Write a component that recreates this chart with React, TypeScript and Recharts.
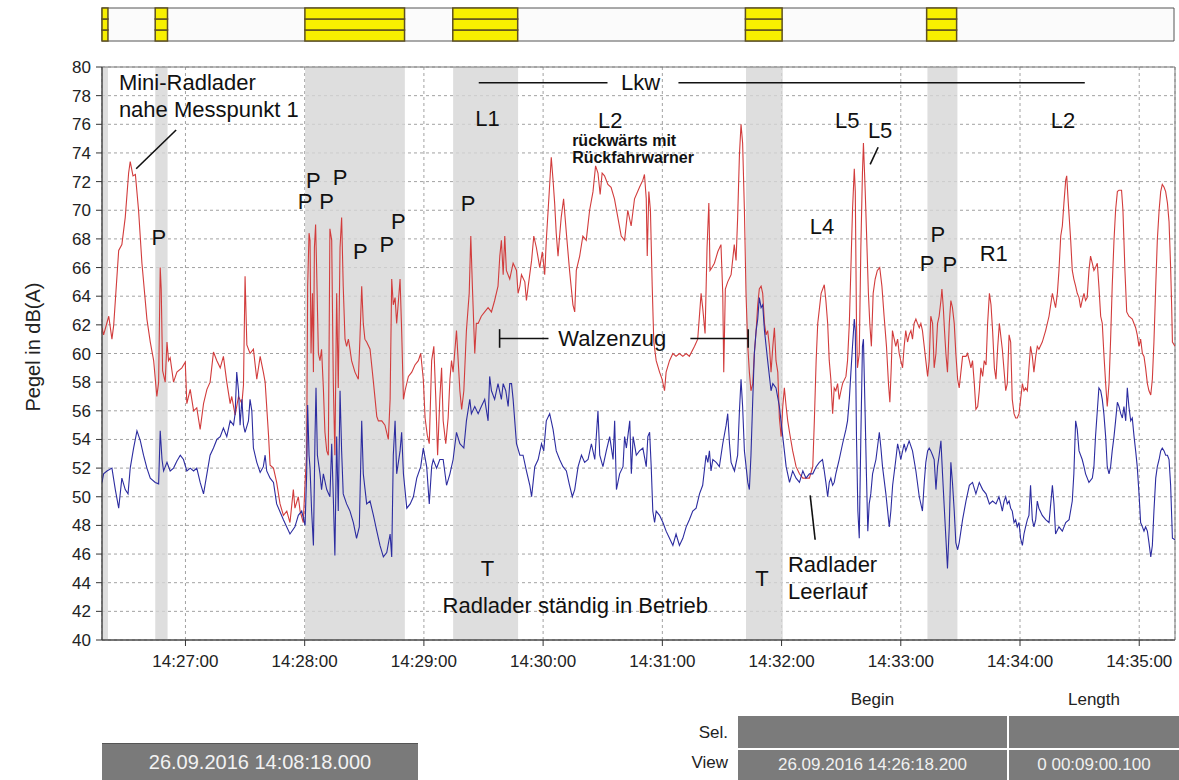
import React from 'react';
import {
  LineChart,
  Line,
  XAxis,
  YAxis,
  CartesianGrid,
  ReferenceArea,
  ReferenceLine,
  ReferenceDot,
} from 'recharts';

const FONT = '"Liberation Sans", Arial, Helvetica, sans-serif';

// x values are seconds after 14:26:18
const timeTicks = [42, 102, 162, 222, 282, 342, 402, 462, 522];
const timeLabels = ['14:27:00', '14:28:00', '14:29:00', '14:30:00', '14:31:00', '14:32:00', '14:33:00', '14:34:00', '14:35:00'];
const levelTicks = [40, 42, 44, 46, 48, 50, 52, 54, 56, 58, 60, 62, 64, 66, 68, 70, 72, 74, 76, 78, 80];

// marked intervals: grey bands in the plot, yellow blocks in the strip above
const markStart = [0, 26.8, 102.2, 176.7, 324.1, 415.4];
const markEnd = [3, 33.0, 152.4, 209.4, 342.6, 430.5];

// [seconds, dB(A)]
const redLevels: [number, number][] = [
  [0, 61.8], [0.8, 61.3], [3.4, 62.6], [5.0, 61.0], [5.9, 62.0], [8.4, 67.2], [10.0, 67.6], [11.7, 69.5], [13.4, 72.6], [14.2, 73.4],
  [15.6, 72.4], [16.8, 72.5], [18.4, 70.0], [20.1, 66.3], [22.6, 62.4], [24.3, 60.8], [26.0, 59.5], [27.6, 57.0], [28.5, 58.0], [29.3, 66.0],
  [29.8, 64.5], [30.5, 58.8], [31.8, 58.0], [32.7, 60.8], [33.5, 59.5], [34.3, 59.7], [36.0, 58.0], [37.7, 58.7], [40.2, 59.0], [41.9, 59.4],
  [42.7, 56.5], [44.4, 57.5], [46.1, 56.0], [47.7, 56.2], [49.4, 54.7], [51.1, 56.5], [52.8, 57.5], [54.4, 58.0], [56.1, 60.1], [57.8, 59.5],
  [59.5, 59.0], [61.1, 59.8], [62.8, 58.0], [64.5, 56.5], [65.3, 57.0], [67.0, 55.7], [68.7, 57.0], [70.4, 56.5], [71.2, 57.8], [72.0, 65.4],
  [72.9, 60.6], [74.5, 60.0], [76.2, 60.3], [77.9, 58.2], [79.6, 59.8], [81.2, 58.7], [82.1, 58.0], [83.8, 54.3], [84.6, 52.2], [86.3, 52.0],
  [87.9, 51.0], [89.6, 49.5], [91.3, 48.7], [93.0, 49.0], [94.6, 48.2], [96.3, 50.5], [97.1, 49.2], [98.8, 50.0], [99.7, 49.0], [101.3, 48.2],
  [102.2, 51.0], [103.0, 52.9], [103.5, 64.7], [104.2, 68.4], [104.7, 67.9], [105.2, 60.0], [105.9, 64.2], [106.4, 58.7], [106.9, 67.4], [107.5, 69.0],
  [108.0, 66.0], [108.9, 60.0], [109.7, 59.5], [110.5, 60.3], [111.4, 57.6], [112.2, 54.5], [113.1, 53.2], [113.9, 52.9], [114.7, 68.7], [115.6, 67.9],
  [116.4, 58.0], [117.2, 52.9], [118.1, 64.2], [118.9, 57.6], [119.8, 67.4], [120.6, 69.5], [121.4, 64.7], [122.3, 61.0], [123.1, 60.5], [124.0, 61.0],
  [124.8, 60.3], [125.6, 59.5], [127.3, 58.7], [129.0, 58.2], [129.8, 61.0], [130.7, 64.7], [131.5, 62.1], [132.3, 61.0], [133.2, 60.8], [134.9, 60.3],
  [136.6, 58.0], [138.3, 55.6], [139.1, 55.3], [140.8, 55.3], [142.4, 55.0], [144.1, 54.0], [145.0, 56.8], [145.8, 65.2], [146.6, 63.4], [147.5, 63.9],
  [148.3, 62.1], [149.2, 63.7], [150.0, 65.2], [150.8, 61.6], [151.7, 56.8], [152.5, 57.4], [154.2, 58.4], [155.9, 58.7], [157.5, 59.2], [159.2, 59.5],
  [160.4, 60.0], [161.7, 58.2], [162.6, 55.5], [163.7, 54.3], [164.7, 53.7], [165.9, 59.5], [167.0, 60.5], [168.0, 56.8], [168.9, 52.9], [170.0, 56.8],
  [170.9, 59.0], [171.7, 55.3], [173.0, 53.7], [174.2, 55.5], [175.1, 58.2], [175.9, 59.5], [176.7, 58.7], [178.4, 61.6], [180.1, 57.4], [181.0, 56.1],
  [182.1, 57.4], [183.4, 61.6], [184.8, 64.2], [185.6, 68.2], [186.4, 64.7], [187.6, 60.0], [188.4, 62.1], [189.3, 62.1], [190.9, 62.6], [192.6, 62.9],
  [194.3, 63.2], [196.0, 62.9], [197.6, 63.7], [199.3, 64.7], [200.2, 66.8], [201.0, 67.9], [201.9, 65.5], [202.7, 68.2], [203.5, 65.8], [205.2, 65.2],
  [206.9, 66.3], [208.6, 65.8], [209.4, 64.2], [210.3, 64.7], [211.1, 65.5], [212.8, 65.0], [213.6, 63.7], [214.5, 64.7], [216.2, 66.5], [217.3, 68.2],
  [218.6, 67.4], [220.3, 66.0], [221.6, 67.1], [222.8, 65.5], [223.6, 67.9], [225.0, 71.1], [226.1, 73.7], [227.0, 72.1], [227.8, 70.5], [228.6, 68.4],
  [229.5, 66.8], [230.3, 68.2], [231.1, 69.5], [232.3, 70.8], [233.7, 68.4], [235.3, 65.8], [237.0, 63.4], [237.9, 62.9], [238.7, 65.8], [240.4, 66.8],
  [242.0, 68.2], [243.7, 67.9], [245.4, 70.0], [247.1, 71.3], [248.4, 73.1], [249.6, 72.6], [250.7, 71.1], [251.7, 72.6], [252.9, 72.4], [254.6, 71.8],
  [256.2, 71.6], [257.9, 70.8], [259.6, 69.5], [261.3, 68.2], [263.0, 67.9], [264.6, 70.0], [266.3, 68.9], [268.0, 70.8], [270.5, 71.6], [272.2, 72.1],
  [273.0, 72.5], [273.9, 70.8], [274.4, 66.8], [275.2, 71.3], [276.0, 70.0], [276.9, 64.7], [277.7, 60.8], [278.9, 59.5], [280.6, 58.7], [281.9, 58.2],
  [283.1, 57.4], [283.9, 58.7], [285.6, 59.5], [287.3, 60.0], [288.9, 59.8], [290.6, 60.0], [292.3, 59.8], [294.0, 60.0], [295.6, 59.8], [298.2, 60.5],
  [299.8, 61.0], [301.5, 64.2], [302.3, 63.2], [303.5, 61.4], [304.5, 67.4], [305.4, 70.5], [306.0, 65.8], [307.0, 66.0], [308.2, 66.3], [309.9, 67.1],
  [311.5, 67.6], [312.4, 64.2], [312.9, 58.7], [313.7, 64.5], [314.9, 65.0], [316.6, 65.5], [318.2, 67.6], [319.1, 66.5], [319.9, 69.5], [320.8, 73.9],
  [321.6, 76.0], [322.4, 74.7], [323.3, 70.0], [324.1, 64.2], [325.0, 60.5], [325.8, 58.7], [326.6, 57.4], [327.5, 57.9], [328.3, 60.0], [329.2, 61.6],
  [330.0, 63.4], [330.8, 64.5], [331.7, 64.7], [332.5, 64.2], [333.4, 62.1], [334.2, 61.3], [335.0, 61.6], [335.9, 60.5], [336.7, 58.7], [337.6, 60.5],
  [338.4, 61.8], [339.2, 59.5], [340.1, 58.7], [340.9, 55.5], [341.8, 54.2], [342.6, 56.3], [343.4, 57.6], [344.3, 56.3], [345.1, 55.3], [346.0, 54.5],
  [347.6, 53.2], [349.3, 52.1], [351.0, 51.6], [352.7, 51.3], [354.3, 51.3], [356.0, 51.3], [357.7, 52.1], [358.5, 55.3], [359.4, 59.5], [360.2, 62.1],
  [361.9, 64.2], [363.5, 64.8], [364.3, 63.7], [365.2, 62.1], [366.0, 59.5], [366.8, 58.2], [367.7, 55.8], [368.5, 57.6], [369.3, 57.4], [370.2, 57.9],
  [371.0, 56.8], [371.9, 57.4], [372.7, 57.9], [374.4, 58.4], [375.2, 59.5], [376.1, 62.1], [376.9, 66.0], [377.7, 70.0], [378.6, 72.9], [379.1, 71.3],
  [379.7, 62.1], [380.2, 59.0], [381.1, 60.0], [381.9, 67.4], [382.7, 72.6], [383.2, 74.7], [384.1, 71.3], [384.7, 68.7], [385.7, 64.2], [386.4, 62.1],
  [387.2, 60.5], [388.1, 64.2], [389.1, 65.2], [390.2, 65.8], [391.4, 66.0], [392.5, 64.7], [393.6, 62.6], [394.8, 60.5], [395.8, 57.9], [396.5, 56.6],
  [397.2, 59.0], [397.8, 61.6], [398.7, 61.0], [399.5, 60.5], [400.4, 61.0], [401.2, 60.0], [402.0, 59.5], [402.9, 59.0], [403.7, 60.5], [404.5, 61.6],
  [405.4, 60.8], [406.2, 61.3], [407.1, 61.6], [407.9, 61.0], [408.7, 62.1], [409.6, 62.4], [410.4, 62.1], [411.3, 61.8], [412.1, 62.1], [412.9, 61.6],
  [413.8, 60.5], [414.6, 59.5], [415.5, 58.4], [416.3, 59.5], [417.1, 62.6], [418.0, 62.1], [418.8, 59.0], [419.7, 60.0], [420.5, 62.1], [421.3, 62.6],
  [422.2, 63.7], [422.7, 64.5], [423.4, 63.2], [424.0, 61.6], [424.7, 60.0], [425.5, 58.7], [426.4, 62.1], [427.2, 63.7], [428.0, 63.2], [428.9, 62.1],
  [429.7, 60.0], [430.6, 58.2], [431.4, 57.6], [433.1, 59.8], [434.8, 59.8], [435.6, 60.0], [436.5, 59.5], [437.3, 59.0], [438.1, 59.5], [439.0, 57.9],
  [439.8, 56.1], [440.7, 56.3], [441.5, 57.4], [442.3, 59.0], [443.2, 58.4], [444.0, 59.5], [444.9, 59.2], [445.7, 62.1], [446.6, 64.2], [447.4, 63.4],
  [448.2, 61.6], [449.1, 59.0], [449.9, 58.2], [450.8, 60.5], [451.6, 62.1], [453.1, 60.3], [454.8, 57.4], [455.6, 57.9], [456.5, 61.3], [457.3, 60.8],
  [458.1, 56.8], [459.0, 55.8], [459.8, 55.5], [460.6, 55.5], [461.5, 55.8], [462.3, 56.8], [463.2, 57.9], [464.0, 57.4], [464.8, 57.6], [465.7, 57.4],
  [466.5, 59.0], [467.3, 60.5], [468.2, 59.8], [469.0, 58.7], [469.9, 59.8], [470.7, 60.5], [471.5, 60.3], [473.2, 60.8], [474.9, 61.6], [476.6, 62.6],
  [478.3, 64.2], [479.1, 63.7], [479.9, 63.2], [480.8, 64.2], [481.6, 65.8], [482.5, 68.2], [483.3, 68.9], [484.1, 70.5], [485.0, 72.1], [485.5, 72.4],
  [486.3, 70.5], [487.5, 67.9], [488.3, 65.8], [489.1, 65.2], [490.0, 64.7], [490.8, 64.2], [491.7, 63.9], [492.5, 63.2], [493.3, 63.7], [494.2, 64.2],
  [495.0, 63.7], [495.8, 63.9], [496.7, 65.8], [497.5, 66.8], [498.4, 66.3], [499.2, 65.8], [500.0, 66.0], [500.9, 66.3], [501.7, 64.7], [502.6, 62.6],
  [503.4, 62.1], [504.2, 60.0], [505.1, 57.9], [505.9, 56.3], [506.8, 57.9], [507.6, 61.0], [508.4, 64.7], [509.3, 67.9], [510.1, 70.0], [511.0, 71.3],
  [511.8, 71.4], [513.1, 71.4], [513.8, 70.0], [514.8, 65.8], [515.7, 62.9], [516.8, 62.6], [518.5, 62.4], [520.2, 61.8], [521.0, 61.3], [521.9, 60.5],
  [522.7, 61.0], [523.6, 60.0], [524.4, 59.8], [525.2, 59.0], [526.1, 57.9], [526.9, 57.4], [527.8, 57.1], [528.6, 58.2], [529.4, 60.8], [530.3, 64.7],
  [531.1, 67.9], [532.0, 70.0], [532.8, 71.3], [533.6, 71.8], [534.5, 71.6], [535.3, 71.3], [536.2, 70.5], [537.0, 69.2], [537.8, 66.0], [538.3, 63.4],
  [538.7, 60.8], [540, 60.5],
];

const blueLevels: [number, number][] = [
  [0, 51.0], [0.8, 51.6], [2.5, 51.8], [5.0, 52.0], [6.7, 50.5], [8.4, 49.2], [10.0, 51.3], [11.7, 50.5], [13.1, 50.2], [14.2, 52.0],
  [15.9, 53.4], [17.6, 54.6], [19.3, 53.9], [20.9, 52.9], [22.6, 52.0], [24.3, 51.3], [26.8, 51.0], [28.5, 50.9], [29.3, 54.6], [30.2, 52.6],
  [31.0, 51.8], [32.7, 52.4], [34.3, 51.8], [36.0, 52.0], [37.7, 52.5], [39.4, 52.9], [41.0, 52.6], [42.7, 51.8], [44.4, 52.0], [46.1, 51.8],
  [47.7, 52.0], [49.4, 51.0], [51.1, 50.2], [52.8, 51.6], [54.4, 52.9], [56.1, 53.4], [57.8, 54.0], [59.5, 54.2], [61.1, 54.8], [62.8, 54.2],
  [64.5, 55.3], [66.2, 55.0], [67.0, 55.8], [67.8, 58.7], [68.7, 57.4], [69.5, 55.0], [70.4, 56.8], [71.2, 55.0], [72.0, 54.5], [73.7, 55.3],
  [74.5, 56.8], [75.4, 56.0], [76.2, 53.4], [77.9, 52.4], [79.6, 51.7], [81.2, 52.1], [82.1, 52.9], [82.9, 51.8], [84.6, 51.3], [86.3, 51.0],
  [87.9, 49.5], [91.3, 48.4], [94.6, 47.4], [97.1, 47.9], [98.8, 48.7], [100.5, 49.0], [102.2, 48.0], [103.0, 51.6], [103.5, 56.4], [104.2, 52.9],
  [104.7, 52.0], [105.5, 49.0], [106.4, 46.6], [107.2, 54.2], [107.7, 57.6], [108.4, 52.9], [109.7, 51.6], [110.5, 50.5], [111.4, 51.6], [113.1, 50.5],
  [114.7, 50.0], [115.6, 53.7], [116.4, 50.0], [117.2, 45.9], [118.1, 54.2], [118.9, 49.0], [119.8, 57.4], [120.6, 53.2], [121.4, 50.2], [123.1, 49.5],
  [124.8, 49.0], [126.5, 48.2], [128.1, 47.1], [129.5, 47.9], [130.7, 55.3], [131.5, 51.6], [133.2, 49.5], [134.9, 49.7], [136.6, 48.7], [138.3, 47.6],
  [139.9, 46.6], [141.6, 45.8], [143.3, 46.1], [145.0, 47.4], [145.8, 45.8], [146.6, 52.9], [147.5, 55.3], [148.3, 51.6], [150.0, 53.2], [150.8, 54.5],
  [151.7, 51.6], [153.4, 49.2], [155.1, 49.5], [156.7, 50.0], [158.4, 51.3], [160.4, 52.1], [161.7, 53.4], [163.4, 52.1], [164.7, 49.5], [165.9, 52.1],
  [166.7, 52.6], [168.4, 52.0], [170.0, 52.6], [171.7, 52.6], [173.4, 50.8], [175.1, 51.6], [176.7, 52.6], [178.4, 54.5], [180.1, 53.7], [182.1, 53.4],
  [183.4, 55.3], [185.1, 56.8], [185.9, 55.8], [187.6, 56.3], [189.3, 55.8], [190.9, 56.3], [192.6, 56.8], [194.3, 55.3], [195.1, 58.4], [196.0, 57.4],
  [197.6, 56.8], [199.3, 57.9], [201.0, 56.8], [201.9, 57.9], [203.2, 57.4], [204.4, 56.3], [205.2, 57.9], [206.1, 57.9], [206.9, 56.8], [208.6, 53.7],
  [210.3, 52.9], [211.9, 52.9], [213.6, 51.8], [215.3, 50.8], [216.2, 50.0], [217.8, 52.1], [219.5, 52.6], [221.2, 53.7], [222.3, 53.2], [223.6, 55.3],
  [225.3, 55.8], [227.0, 54.7], [228.6, 53.2], [230.3, 52.6], [232.0, 52.1], [233.7, 51.8], [235.3, 50.8], [236.7, 50.0], [237.9, 50.5], [239.6, 52.1],
  [241.3, 52.9], [242.9, 52.4], [244.6, 52.6], [246.3, 53.7], [248.0, 52.6], [249.6, 56.0], [250.5, 52.9], [252.1, 52.1], [253.8, 53.2], [255.5, 54.2],
  [257.2, 52.6], [258.0, 55.3], [258.9, 50.5], [260.5, 51.6], [262.2, 52.1], [263.0, 54.2], [263.9, 53.4], [265.6, 55.3], [266.4, 51.6], [267.3, 54.2],
  [268.9, 52.9], [270.5, 53.2], [272.2, 53.4], [273.9, 52.1], [274.7, 54.2], [275.6, 54.5], [276.4, 52.1], [277.2, 49.0], [278.1, 48.2], [278.9, 49.0],
  [280.6, 48.7], [282.3, 48.2], [283.9, 47.6], [285.6, 47.1], [287.3, 46.6], [288.9, 47.4], [290.6, 46.6], [292.3, 47.1], [294.0, 47.9], [295.6, 48.4],
  [297.3, 49.0], [299.0, 49.2], [300.7, 50.2], [302.3, 50.8], [304.0, 52.9], [304.9, 52.4], [305.7, 53.2], [306.5, 51.8], [307.4, 52.6], [309.1, 52.4],
  [310.7, 52.1], [312.4, 53.7], [314.1, 55.0], [314.9, 55.8], [315.8, 53.7], [316.6, 52.4], [318.3, 51.8], [319.9, 52.9], [320.8, 56.0], [321.6, 58.2],
  [322.4, 56.3], [323.3, 53.2], [325.0, 51.0], [325.8, 50.5], [326.6, 52.9], [327.5, 56.8], [328.3, 60.0], [329.2, 61.6], [330.0, 62.4], [330.8, 63.9],
  [331.7, 63.2], [332.5, 63.4], [333.4, 61.6], [335.0, 59.5], [336.7, 57.4], [337.6, 57.9], [339.2, 57.6], [340.9, 56.3], [342.6, 54.2], [344.3, 52.1],
  [346.0, 51.0], [347.6, 51.8], [349.3, 51.3], [351.0, 51.0], [352.7, 51.8], [354.3, 51.3], [356.0, 51.6], [357.7, 51.6], [359.4, 52.1], [361.0, 52.4],
  [362.6, 52.6], [363.5, 51.8], [364.3, 51.0], [365.2, 50.0], [366.0, 51.0], [366.8, 51.3], [367.7, 50.8], [368.5, 51.0], [369.3, 51.6], [371.0, 52.6],
  [372.7, 53.7], [374.4, 54.7], [375.2, 55.3], [376.1, 56.8], [376.9, 58.7], [377.7, 60.5], [378.6, 62.4], [379.1, 61.6], [379.7, 54.2], [380.4, 49.0],
  [381.1, 47.1], [381.9, 54.2], [382.7, 60.5], [383.2, 61.0], [384.1, 55.5], [384.7, 51.6], [385.4, 47.6], [386.1, 49.5], [386.9, 50.2], [387.8, 51.6],
  [389.5, 52.6], [391.2, 54.5], [392.0, 53.4], [392.8, 52.1], [394.5, 50.2], [396.2, 47.9], [397.0, 49.0], [397.9, 50.8], [399.5, 52.6], [400.4, 53.7],
  [401.2, 53.2], [402.0, 52.6], [403.7, 53.7], [404.5, 53.2], [406.2, 53.9], [407.9, 53.2], [409.6, 51.8], [411.3, 50.0], [412.9, 49.0], [413.8, 51.0],
  [414.6, 52.4], [415.5, 53.2], [416.3, 53.4], [417.1, 53.2], [418.0, 52.9], [418.8, 52.6], [419.7, 50.5], [420.5, 52.1], [421.3, 52.9], [422.2, 53.9],
  [423.0, 51.6], [423.9, 49.2], [424.7, 47.1], [425.5, 45.0], [426.4, 47.9], [427.2, 52.4], [428.0, 51.0], [428.9, 49.0], [429.7, 46.8], [430.6, 46.3],
  [431.4, 46.8], [433.1, 48.4], [434.8, 49.7], [436.5, 50.8], [438.1, 51.0], [439.8, 50.2], [441.5, 51.0], [443.2, 50.5], [444.9, 50.2], [446.6, 49.5],
  [448.2, 49.7], [449.9, 49.5], [451.4, 50.0], [452.3, 49.5], [453.1, 49.0], [454.0, 49.7], [454.8, 50.0], [455.6, 49.5], [456.5, 49.7], [457.3, 49.2],
  [458.1, 49.0], [459.0, 48.2], [459.8, 48.4], [460.6, 47.9], [461.5, 48.2], [462.3, 47.1], [463.2, 46.6], [464.0, 47.4], [464.8, 47.9], [465.7, 48.4],
  [466.5, 48.7], [467.3, 50.8], [468.2, 48.4], [469.0, 47.9], [469.9, 48.4], [470.7, 49.7], [471.5, 49.2], [473.2, 48.7], [474.9, 48.4], [476.6, 48.2],
  [478.3, 50.8], [479.1, 49.5], [479.9, 47.4], [481.6, 47.9], [483.3, 47.6], [485.0, 48.2], [486.7, 48.4], [488.3, 49.7], [489.1, 51.6], [490.0, 55.3],
  [490.8, 54.7], [491.7, 53.2], [493.3, 52.6], [494.2, 52.1], [495.0, 51.6], [496.7, 51.0], [498.4, 51.3], [499.2, 52.1], [500.0, 54.2], [500.9, 56.0],
  [501.7, 57.6], [502.6, 57.4], [503.4, 56.8], [504.2, 55.8], [505.1, 54.2], [505.9, 52.1], [506.8, 51.6], [507.6, 52.1], [508.4, 53.2], [509.3, 54.2],
  [510.1, 55.3], [511.0, 56.6], [511.8, 56.3], [512.7, 55.8], [513.5, 55.5], [514.3, 56.3], [515.2, 55.3], [516.0, 57.6], [516.8, 56.3], [517.7, 55.3],
  [518.5, 55.5], [519.4, 54.2], [520.2, 53.2], [521.0, 52.1], [521.9, 50.2], [522.7, 48.2], [523.6, 47.9], [524.4, 47.6], [525.2, 47.9], [526.1, 47.6],
  [526.9, 46.8], [527.8, 45.8], [528.6, 46.6], [529.4, 49.0], [530.3, 51.3], [531.1, 52.1], [532.0, 52.6], [532.8, 53.2], [533.6, 53.4], [534.5, 53.2],
  [535.3, 52.9], [536.2, 52.9], [537.0, 52.6], [537.8, 50.8], [538.7, 47.1], [540, 47.0],
];

type Note = { text: string; t: number; db: number; anchor?: 'start' | 'middle'; size?: number; bold?: boolean };

// annotations placed in data units (seconds, dB)
const notes: Note[] = [
  { text: 'Mini-Radlader', t: 8.5, db: 78.9, anchor: 'start' },
  { text: 'nahe Messpunkt 1', t: 8.5, db: 77.0, anchor: 'start' },
  { text: 'P', t: 28.6, db: 68.1 },
  { text: 'P', t: 102.2, db: 70.6 },
  { text: 'P', t: 106.3, db: 72.1 },
  { text: 'P', t: 113.0, db: 70.6 },
  { text: 'P', t: 119.8, db: 72.3 },
  { text: 'P', t: 130.0, db: 67.1 },
  { text: 'P', t: 143.4, db: 67.6 },
  { text: 'P', t: 149.2, db: 69.2 },
  { text: 'P', t: 184.3, db: 70.5 },
  { text: 'L1', t: 194.0, db: 76.4 },
  { text: 'L2', t: 255.8, db: 76.3 },
  { text: 'rückwärts mit', t: 236.6, db: 74.9, anchor: 'start', size: 16, bold: true },
  { text: 'Rückfahrwarner', t: 236.6, db: 73.7, anchor: 'start', size: 16, bold: true },
  { text: 'Lkw', t: 271.0, db: 78.9 },
  { text: 'Walzenzug', t: 229.6, db: 61.05, anchor: 'start' },
  { text: 'T', t: 194.0, db: 45.0 },
  { text: 'T', t: 332.2, db: 44.3 },
  { text: 'Radlader ständig in Betrieb', t: 238.2, db: 42.4 },
  { text: 'L4', t: 362.4, db: 68.9 },
  { text: 'L5', t: 375.0, db: 76.3 },
  { text: 'L5', t: 391.6, db: 75.6 },
  { text: 'P', t: 420.7, db: 68.3 },
  { text: 'P', t: 415.2, db: 66.3 },
  { text: 'P', t: 426.7, db: 66.2 },
  { text: 'R1', t: 448.8, db: 67.0 },
  { text: 'L2', t: 483.6, db: 76.3 },
  { text: 'Radlader', t: 345.2, db: 45.3, anchor: 'start' },
  { text: 'Leerlauf', t: 345.2, db: 43.4, anchor: 'start' },
];

// pointer and bracket strokes: [t1, db1, t2, db2]
const strokes: [number, number, number, number][] = [
  [17.2, 72.9, 37.3, 75.6],
  [189.6, 78.9, 254.4, 78.9],
  [290.1, 78.9, 494.6, 78.9],
  [200.1, 61.7, 200.1, 60.4],
  [200.1, 61.05, 224.7, 61.05],
  [296.1, 61.05, 325.2, 61.05],
  [325.2, 61.7, 325.2, 60.4],
  [390.6, 74.4, 386.6, 73.2],
  [356.4, 50.1, 358.9, 47.0],
];

const toRows = (s: [number, number][]) => s.map(([t, db]) => ({ t, db }));
const redRows = toRows(redLevels);
const blueRows = toRows(blueLevels);

// strip frame: an invisible flat line just gives the chart a domain to lay out on
const stripFrame = [{ t: 0, v: 1.5 }, { t: 540, v: 1.5 }];

function MarkerStrip() {
  return (
    <LineChart width={1179} height={50} margin={{ top: 8, right: 5, bottom: 9, left: 102 }}>
      <XAxis type="number" dataKey="t" domain={[0, 540]} hide />
      <YAxis type="number" domain={[0, 3]} hide />
      <ReferenceArea x1={0} x2={540} y1={0} y2={3} fill="#fbfbfb" fillOpacity={1} stroke="#555" strokeWidth={1} />
      {markStart.map((s, i) =>
        [0, 1, 2].map((k) => (
          <ReferenceArea
            key={`m${i}-${k}`}
            x1={s}
            x2={markEnd[i]}
            y1={k}
            y2={k + 1}
            fill="#f8f000"
            fillOpacity={1}
            stroke="#5e5020"
            strokeWidth={1.5}
          />
        )),
      )}
      <Line data={stripFrame} dataKey="v" stroke="none" strokeOpacity={0} dot={false} isAnimationActive={false} />
    </LineChart>
  );
}

export default function App() {
  const tickStyle = { fontSize: 17, fill: '#222', fontFamily: FONT };
  return (
    <div style={{ position: 'absolute', left: 0, top: 0, width: 1179, height: 780, background: '#fff', fontFamily: FONT, overflow: 'hidden' }}>
      <div style={{ position: 'absolute', left: 0, top: 58 }}>
        <LineChart width={1179} height={622} margin={{ top: 9, right: 4, bottom: 5, left: 62 }}>
          {markStart.map((s, i) => (
            <ReferenceArea key={`b${i}`} x1={s} x2={markEnd[i]} y1={40} y2={80} fill="#d6d6d6" fillOpacity={0.8} stroke="none" />
          ))}
          <CartesianGrid stroke="#8a8a8a" strokeDasharray="3 3" strokeWidth={0.8} />
          <XAxis
            type="number"
            dataKey="t"
            domain={[0, 540]}
            ticks={timeTicks}
            interval={0}
            allowDataOverflow
            tickFormatter={(v: number) => timeLabels[timeTicks.indexOf(v)] ?? ''}
            tick={tickStyle}
            tickSize={6}
            tickMargin={9}
            tickLine={{ stroke: '#333' }}
            axisLine={{ stroke: '#333' }}
            height={35}
          />
          <YAxis
            type="number"
            domain={[40, 80]}
            ticks={levelTicks}
            interval={0}
            allowDataOverflow
            tick={tickStyle}
            tickSize={6}
            tickMargin={5}
            tickLine={{ stroke: '#333' }}
            axisLine={{ stroke: '#333' }}
            width={40}
          />
          <ReferenceArea x1={0} x2={540} y1={40} y2={80} fill="none" stroke="#777" strokeWidth={1} />
          <Line data={redRows} dataKey="db" type="linear" stroke="#d23c3c" strokeWidth={1.1} dot={false} isAnimationActive={false} />
          <Line data={blueRows} dataKey="db" type="linear" stroke="#2c2ca0" strokeWidth={1.1} dot={false} isAnimationActive={false} />
          {strokes.map(([t1, d1, t2, d2], i) => (
            <ReferenceLine
              key={`s${i}`}
              segment={[{ x: t1, y: d1 }, { x: t2, y: d2 }]}
              stroke="#111"
              strokeWidth={1.6}
              ifOverflow="visible"
            />
          ))}
          {notes.map((n, i) => (
            <ReferenceDot
              key={`n${i}`}
              x={n.t}
              y={n.db}
              r={1}
              ifOverflow="visible"
              shape={(p: any) => (
                <text
                  x={p.cx}
                  y={p.cy}
                  textAnchor={n.anchor ?? 'middle'}
                  dominantBaseline="central"
                  fontSize={n.size ?? 22}
                  fontWeight={n.bold ? 700 : 400}
                  fontFamily={FONT}
                  fill="#111"
                >
                  {n.text}
                </text>
              )}
            />
          ))}
        </LineChart>
      </div>
      <div style={{ position: 'absolute', left: 0, top: 0 }}>
        <MarkerStrip />
      </div>

      <div
        style={{
          position: 'absolute',
          left: 33,
          top: 347,
          transform: 'translate(-50%, -50%) rotate(-90deg)',
          fontSize: 20,
          color: '#222',
          whiteSpace: 'nowrap',
        }}
      >
        Pegel in dB(A)
      </div>

      <div
        style={{
          position: 'absolute',
          left: 102,
          top: 743,
          width: 316,
          height: 37,
          background: '#7a7a7a',
          borderTop: '1px solid #555',
          color: '#f2f2f2',
          fontSize: 20,
          lineHeight: '37px',
          textAlign: 'center',
        }}
      >
        26.09.2016 14:08:18.000
      </div>

      <div style={{ position: 'absolute', left: 738, top: 690, width: 269, textAlign: 'center', fontSize: 17, color: '#222' }}>Begin</div>
      <div style={{ position: 'absolute', left: 1009, top: 690, width: 170, textAlign: 'center', fontSize: 17, color: '#222' }}>Length</div>
      <div style={{ position: 'absolute', left: 660, top: 723, width: 68, textAlign: 'right', fontSize: 17, color: '#222' }}>Sel.</div>
      <div style={{ position: 'absolute', left: 660, top: 753, width: 68, textAlign: 'right', fontSize: 17, color: '#222' }}>View</div>

      <div style={{ position: 'absolute', left: 738, top: 716, width: 269, height: 32, background: '#7b7b7b' }} />
      <div style={{ position: 'absolute', left: 1009, top: 716, width: 170, height: 32, background: '#7b7b7b' }} />
      <div
        style={{
          position: 'absolute',
          left: 738,
          top: 750,
          width: 269,
          height: 30,
          background: '#7b7b7b',
          color: '#f0f0f0',
          fontSize: 17,
          lineHeight: '30px',
          textAlign: 'center',
        }}
      >
        26.09.2016 14:26:18.200
      </div>
      <div
        style={{
          position: 'absolute',
          left: 1009,
          top: 750,
          width: 170,
          height: 30,
          background: '#7b7b7b',
          color: '#f0f0f0',
          fontSize: 17,
          lineHeight: '30px',
          textAlign: 'center',
        }}
      >
        0 00:09:00.100
      </div>
    </div>
  );
}
